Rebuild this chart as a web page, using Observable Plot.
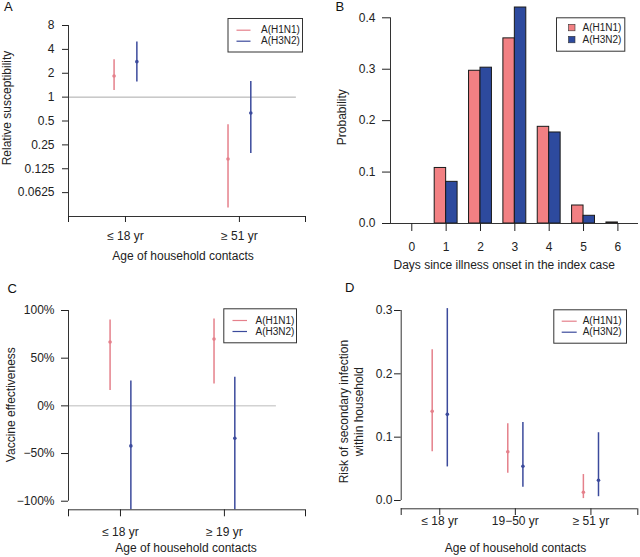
<!DOCTYPE html>
<html><head><meta charset="utf-8">
<script src="https://cdn.jsdelivr.net/npm/d3@7"></script>
<script src="https://cdn.jsdelivr.net/npm/@observablehq/plot@0.6"></script>
<style>
html,body{margin:0;padding:0;background:#fff;}
#fig{position:relative;width:640px;height:557px;overflow:hidden;background:#fff;font-family:"Liberation Sans",Arial,Helvetica,sans-serif;}
#fig > svg{position:absolute;}
</style></head><body><div id="fig"></div>
<script>
// ---------- data ----------
const strains = ["A(H1N1)", "A(H3N2)"];
const lineColors = ["#E5808B", "#3B4A9C"];
const barColors = ["#F28083", "#2D4A9E"];

// Panel A: relative susceptibility
const ageGroupsA = ["≤ 18 yr", "≥ 51 yr"];
const suscTicks = [0.0625, 0.125, 0.25, 0.5, 1, 2, 4, 8];
const suscH1N1 = [1.85, 0.166];
const suscH1N1Lower = [1.21, 0.040];
const suscH1N1Upper = [2.95, 0.45];
const suscH3N2 = [2.8, 0.63];
const suscH3N2Lower = [1.55, 0.194];
const suscH3N2Upper = [4.97, 1.57];

// Panel B: serial interval distribution
const days = [0, 1, 2, 3, 4, 5, 6];
const probH1N1 = [0, 0.108, 0.297, 0.360, 0.188, 0.035, 0.002];
const probH3N2 = [0, 0.081, 0.303, 0.420, 0.177, 0.015, 0];
const probTicks = [0, 0.1, 0.2, 0.3, 0.4];

// Panel C: vaccine effectiveness (%)
const ageGroupsC = ["≤ 18 yr", "≥ 19 yr"];
const veTicks = [-100, -50, 0, 50, 100];
const veH1N1 = [67, 70];
const veH1N1Lower = [16, 23];
const veH1N1Upper = [90, 91];
const veH3N2 = [-42, -34];
const veH3N2Lower = [-115, -115];
const veH3N2Upper = [26, 30];

// Panel D: secondary infection risk
const ageGroupsD = ["≤ 18 yr", "19−50 yr", "≥ 51 yr"];
const riskTicks = [0, 0.1, 0.2, 0.3];
const riskH1N1 = [0.141, 0.077, 0.013];
const riskH1N1Lower = [0.077, 0.043, 0.003];
const riskH1N1Upper = [0.238, 0.121, 0.041];
const riskH3N2 = [0.136, 0.054, 0.032];
const riskH3N2Lower = [0.053, 0.021, 0.006];
const riskH3N2Upper = [0.303, 0.123, 0.107];

// ---------- helpers ----------
function ciRows(groups, e1, l1, u1, e2, l2, u2) {
  const rows = [];
  groups.forEach((g, i) => {
    rows.push({group: i + 1, strain: strains[0], est: e1[i], lo: l1[i], hi: u1[i]});
    rows.push({group: i + 1, strain: strains[1], est: e2[i], lo: l2[i], hi: u2[i]});
  });
  return rows;
}
const dodge = d => d.group + (d.strain === strains[0] ? -0.1 : 0.1);
const baseStyle = {fontFamily: '"Liberation Sans", Arial, Helvetica, sans-serif', fontSize: "12px", color: "#222", background: "transparent", overflow: "visible"};
const fig = document.getElementById("fig");
function place(svg, left, top) { svg.style.left = left + "px"; svg.style.top = top + "px"; fig.appendChild(svg); return svg; }
function panelLabel(svg, t, x, y) {
  d3.select(svg).append("text").attr("x", x).attr("y", y).attr("font-size", 13).attr("text-anchor", "start").attr("fill", "#111").text(t);
}
function legend(svg, o) {
  const g = d3.select(svg).append("g").attr("font-size", 10).attr("fill", "#222").attr("text-anchor", "start");
  g.append("rect").attr("x", o.x0 + 0.5).attr("y", o.y0 + 0.5).attr("width", o.x1 - o.x0).attr("height", o.y1 - o.y0)
    .attr("fill", "white").attr("stroke", "#333").attr("stroke-width", 1);
  strains.forEach((s, i) => {
    const y = o.rows[i];
    if (o.kind === "line") {
      g.append("line").attr("x1", o.sx0).attr("x2", o.sx1).attr("y1", y + 0.5).attr("y2", y + 0.5)
        .attr("stroke", o.colors[i]).attr("stroke-width", 1.2);
    } else {
      g.append("rect").attr("x", o.sx0).attr("y", y - 3).attr("width", o.sx1 - o.sx0).attr("height", 6.5)
        .attr("fill", o.colors[i]).attr("stroke", "#333").attr("stroke-width", 0.6);
    }
    g.append("text").attr("x", o.tx).attr("y", y).attr("dy", "0.35em").text(s);
  });
}
const xTitle = (t, dx, dy) => Plot.text([t], {text: d => d, frameAnchor: "bottom", textAnchor: "middle", lineAnchor: "middle", dx, dy});
const yTitle = (t, dx, dy, extra = {}) => Plot.text([t], {text: d => d, frameAnchor: "left", rotate: -90, textAnchor: "middle", lineAnchor: "middle", dx, dy, ...extra});

// ---------- Panel A ----------
const rowsA = ciRows(ageGroupsA, suscH1N1, suscH1N1Lower, suscH1N1Upper, suscH3N2, suscH3N2Lower, suscH3N2Upper);
const xDomA = [0.5, 2.58], yDomA = [1 / 32, 8];
const plotA = Plot.plot({
  width: 320, height: 278,
  marginLeft: 68, marginRight: 15, marginTop: 25, marginBottom: 62,
  style: baseStyle,
  x: {type: "linear", domain: xDomA},
  y: {type: "log", base: 2, domain: yDomA},
  color: {domain: strains, range: lineColors},
  marks: [
    Plot.ruleY([1], {x1: () => 0.5, x2: () => 2.5, stroke: "#aaa"}),
    Plot.ruleX(rowsA, {x: dodge, y1: "lo", y2: "hi", stroke: "strain", strokeWidth: 1.5}),
    Plot.dot(rowsA, {x: dodge, y: "est", fill: "strain", r: 1.8}),
    Plot.ruleX([xDomA[0]], {y1: () => yDomA[0], y2: () => yDomA[1], stroke: "#333"}),
    Plot.ruleY([yDomA[0]], {x1: () => xDomA[0], x2: () => xDomA[1], stroke: "#333"}),
    Plot.axisY({ticks: suscTicks, tickFormat: d => String(d), tickSize: 6, tickPadding: 8, label: null}),
    Plot.axisX({ticks: [xDomA[0], 1, 2, xDomA[1]], tickFormat: d => Number.isInteger(d) ? ageGroupsA[d - 1] : "", tickSize: 6, tickPadding: 9, label: null}),
    xTitle("Age of household contacts", -4, 40),
    yTitle("Relative susceptibility", -61.5, -13)
  ]
});
place(plotA, 0, 0);
panelLabel(plotA, "A", 4, 10.5);
legend(plotA, {x0: 227.5, y0: 18, x1: 302, y1: 51.5, rows: [29.7, 40.7], kind: "line", sx0: 236.5, sx1: 250.5, tx: 261, colors: lineColors});

// ---------- Panel B ----------
const rowsB = days.flatMap((d, i) => [
  {day: d, strain: strains[0], p: probH1N1[i]},
  {day: d, strain: strains[1], p: probH3N2[i]}
]);
const xDomB = [-0.62, 6.6], yDomB = [0, 0.4];
const plotB = Plot.plot({
  width: 320, height: 278,
  marginLeft: 70, marginRight: 2, marginTop: 17.3, marginBottom: 55,
  style: baseStyle,
  x: {type: "linear", domain: xDomB},
  y: {type: "linear", domain: yDomB},
  color: {domain: strains, range: barColors},
  marks: [
    Plot.rect(rowsB, {
      x1: d => d.day - (d.strain === strains[0] ? 1 / 3 : 0),
      x2: d => d.day + (d.strain === strains[0] ? 0 : 1 / 3),
      y1: () => 0, y2: "p", fill: "strain", stroke: "#1a1a1a", strokeWidth: 1
    }),
    Plot.ruleY([0], {x1: () => xDomB[0], x2: () => xDomB[1], stroke: "#333"}),
    Plot.ruleX([xDomB[0]], {y1: () => yDomB[0], y2: () => yDomB[1], stroke: "#333"}),
    Plot.axisY({ticks: probTicks, tickFormat: d3.format(".1f"), tickSize: 8, tickPadding: 7, label: null}),
    Plot.axisX({ticks: days, tickFormat: d => String(d), tickSize: 8, tickPadding: 10.5, label: null}),
    xTitle("Days since illness onset in the index case", -10.3, 41.2),
    yTitle("Probability", -48, -3.5)
  ]
});
place(plotB, 320, 0);
panelLabel(plotB, "B", 15.5, 10.5);
legend(plotB, {x0: 236, y0: 17.3, x1: 304.3, y1: 50.7, rows: [27.3, 39.3], kind: "box", sx0: 248.5, sx1: 255, tx: 262.5, colors: barColors});

// ---------- Panel C ----------
const rowsC = ciRows(ageGroupsC, veH1N1, veH1N1Lower, veH1N1Upper, veH3N2, veH3N2Lower, veH3N2Upper);
const xDomC = [0.5, 2.78], yDomC = [-109, 100];
const plotC = Plot.plot({
  width: 320, height: 279,
  marginLeft: 68, marginRight: 15, marginTop: 32, marginBottom: 47.7,
  style: baseStyle,
  x: {type: "linear", domain: xDomC},
  y: {type: "linear", domain: yDomC},
  color: {domain: strains, range: lineColors},
  marks: [
    Plot.ruleY([0], {x1: () => 0.5, x2: () => 2.5, stroke: "#bbb"}),
    Plot.ruleX(rowsC, {x: dodge, y1: "lo", y2: "hi", stroke: "strain", strokeWidth: 1.5, clip: true}),
    Plot.dot(rowsC, {x: dodge, y: "est", fill: "strain", r: 1.8}),
    Plot.ruleX([xDomC[0]], {y1: () => veTicks[0], y2: () => veTicks[veTicks.length - 1], stroke: "#333"}),
    Plot.ruleY([yDomC[0]], {x1: () => xDomC[0], x2: () => xDomC[1], stroke: "#333"}),
    Plot.axisY({ticks: veTicks, tickFormat: d => (d < 0 ? "−" : "") + Math.abs(d) + "%", tickSize: 7, tickPadding: 7, label: null}),
    Plot.axisX({ticks: [xDomC[0], 1, 2, xDomC[1]], tickFormat: d => Number.isInteger(d) ? ageGroupsC[d - 1] : "", tickSize: 7, tickPadding: 10.5, label: null}),
    xTitle("Age of household contacts", -1, 38),
    yTitle("Vaccine effectiveness", -57, -5.5)
  ]
});
place(plotC, 0, 278);
panelLabel(plotC, "C", 7.5, 15);
legend(plotC, {x0: 223.3, y0: 30.3, x1: 296, y1: 64.3, rows: [42, 53], kind: "line", sx0: 232.5, sx1: 247, tx: 255.5, colors: lineColors});

// ---------- Panel D ----------
const rowsD = ciRows(ageGroupsD, riskH1N1, riskH1N1Lower, riskH1N1Upper, riskH3N2, riskH3N2Lower, riskH3N2Upper);
const xDomD = [0.49, 3.62], yDomD = [-0.0131, 0.3];
const plotD = Plot.plot({
  width: 320, height: 279,
  marginLeft: 80.7, marginRight: 2.7, marginTop: 32, marginBottom: 48.7,
  style: baseStyle,
  x: {type: "linear", domain: xDomD},
  y: {type: "linear", domain: yDomD},
  color: {domain: strains, range: lineColors},
  marks: [
    Plot.ruleX(rowsD, {x: dodge, y1: "lo", y2: "hi", stroke: "strain", strokeWidth: 1.5}),
    Plot.dot(rowsD, {x: dodge, y: "est", fill: "strain", r: 1.8}),
    Plot.ruleX([xDomD[0]], {y1: () => riskTicks[0], y2: () => riskTicks[riskTicks.length - 1], stroke: "#333"}),
    Plot.ruleY([yDomD[0]], {x1: () => xDomD[0], x2: () => xDomD[1], stroke: "#333"}),
    Plot.axisY({ticks: riskTicks, tickFormat: d3.format(".1f"), tickSize: 6.7, tickPadding: 2, label: null}),
    Plot.axisX({ticks: [xDomD[0], 1, 2, 3, xDomD[1]], tickFormat: d => Number.isInteger(d) ? ageGroupsD[d - 1] : "", tickSize: 6.7, tickPadding: 0.5, label: null}),
    xTitle("Age of household contacts", -4, 38.9),
    yTitle("Risk of secondary infection\nwithin household", -50.3, 2, {lineHeight: 1.18})
  ]
});
place(plotD, 320, 278);
panelLabel(plotD, "D", 25, 13.7);
legend(plotD, {x0: 233.3, y0: 31.3, x1: 306, y1: 64.7, rows: [42.7, 53.7], kind: "line", sx0: 241.7, sx1: 256.7, tx: 262.7, colors: lineColors});
</script>
</body></html>
